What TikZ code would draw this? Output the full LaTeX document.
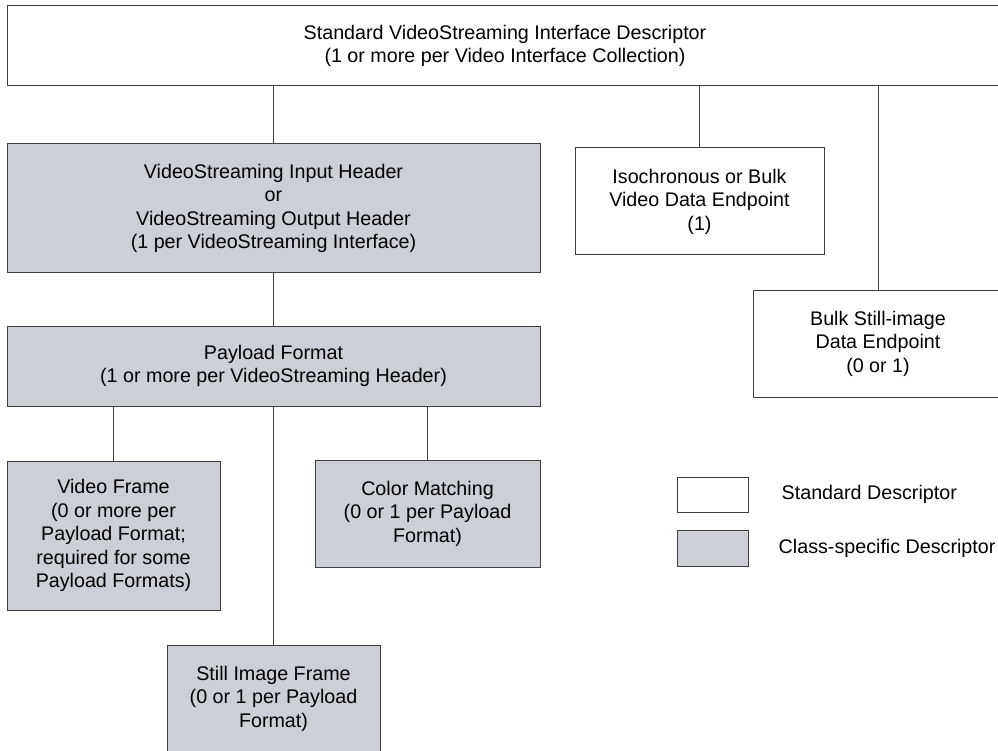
\documentclass[tikz,border=0pt]{standalone}
\usepackage{fontspec}
\setmainfont{Liberation Sans}
\usetikzlibrary{positioning}
\definecolor{csgray}{RGB}{204,207,214}
\tikzset{
  stddesc/.style={draw=black!75, line width=1pt, fill=white, align=center,
    inner sep=0pt, font=\fontsize{19.7}{23.5}\selectfont},
  csdesc/.style={stddesc, fill=csgray},
  link/.style={draw=black!75, line width=1pt},
  legtext/.style={inner sep=0pt, font=\fontsize{19.7}{23.5}\selectfont}
}

\begin{document}
\begin{tikzpicture}[x=1pt, y=-1pt]
  \useasboundingbox (0,0) rectangle (998,751);
  \clip (0,0) rectangle (998,751);

  % standard descriptors
  \node[stddesc, minimum width=996pt, minimum height=80pt] (vsif) at (505,46)
    {Standard VideoStreaming Interface Descriptor\\(1 or more per Video Interface Collection)};
  \node[stddesc, minimum width=249pt, minimum height=107pt] (isoep) at (699.5,201.5)
    {Isochronous or Bulk\\Video Data Endpoint\\(1)};
  \node[stddesc, minimum width=250pt, minimum height=107pt] (stillep) at (878,343.5)
    {Bulk Still-image\\Data Endpoint\\(0 or 1)};

  % class-specific descriptors
  \node[csdesc, minimum width=533pt, minimum height=129pt] (vshdr) at (273.5,208.5)
    {VideoStreaming Input Header\\or\\VideoStreaming Output Header\\(1 per VideoStreaming Interface)};
  \node[csdesc, minimum width=533pt, minimum height=80pt] (payload) at (273.5,366)
    {Payload Format\\(1 or more per VideoStreaming Header)};
  \node[csdesc, minimum width=213pt, minimum height=149pt] (vframe) at (113.5,535.5)
    {Video Frame\\(0 or more per\\Payload Format;\\required for some\\Payload Formats)};
  \node[csdesc, minimum width=225pt, minimum height=107pt] (colmatch) at (427.5,513.5)
    {Color Matching\\(0 or 1 per Payload\\Format)};
  \node[csdesc, minimum width=213pt, minimum height=107pt] (stillfr) at (273.5,698.5)
    {Still Image Frame\\(0 or 1 per Payload\\Format)};

  % links
  \foreach \n in {vshdr, isoep, stillep}
    \draw[link] (\n.north) -- (\n.north |- vsif.south);
  \draw[link] (vshdr.south) -- (payload.north);
  \foreach \n in {vframe, colmatch, stillfr}
    \draw[link] (\n.north) -- (\n.north |- payload.south);

  % legend
  \node[stddesc, minimum width=71pt, minimum height=35pt] (legstd) at (712.5,494.5) {};
  \node[csdesc, minimum width=71pt, minimum height=36pt] (legcs) at (712.5,548) {};
  \node[legtext, right=33pt of legstd] (legstdtext) {Standard Descriptor};
  \node[legtext, right=30pt of legcs] (legcstext) {Class-specific Descriptor};
\end{tikzpicture}
\end{document}
